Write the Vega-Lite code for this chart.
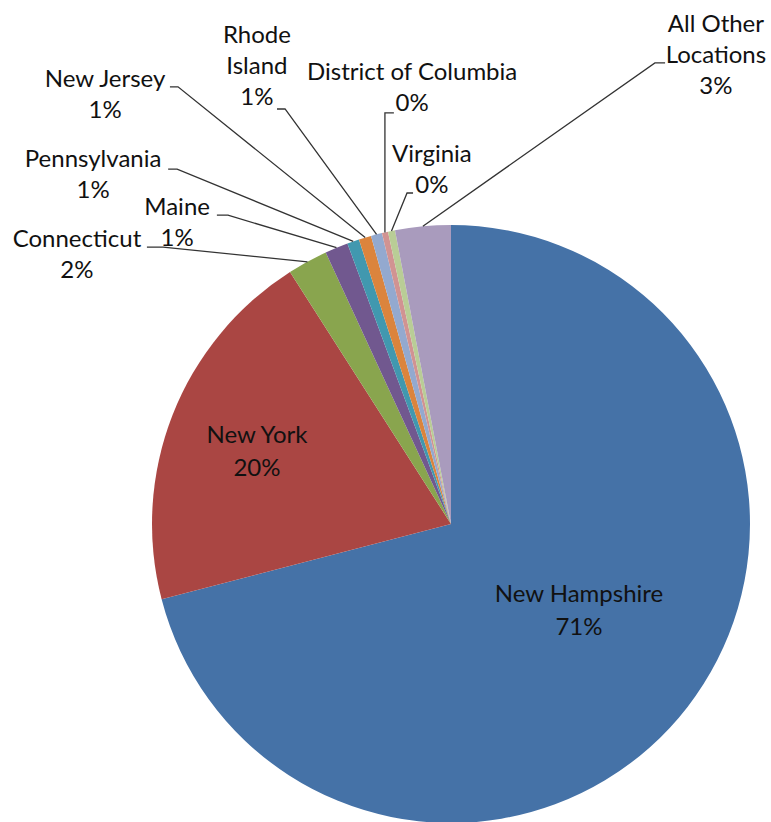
{
  "$schema": "https://vega.github.io/schema/vega-lite/v6.json",
  "width": 598,
  "height": 598,
  "autosize": {"type": "none"},
  "padding": {"left": 152, "top": 225, "right": 21, "bottom": 0},
  "background": "white",
  "config": {"view": {"stroke": null}},
  "datasets": {
    "slices": [
      {"idx": 1, "location": "New Hampshire", "share": 70.95},
      {"idx": 2, "location": "New York", "share": 20.0},
      {"idx": 3, "location": "Connecticut", "share": 2.17},
      {"idx": 4, "location": "Maine", "share": 1.25},
      {"idx": 5, "location": "Pennsylvania", "share": 0.65},
      {"idx": 6, "location": "New Jersey", "share": 0.67},
      {"idx": 7, "location": "Rhode Island", "share": 0.6},
      {"idx": 8, "location": "District of Columbia", "share": 0.33},
      {"idx": 9, "location": "Virginia", "share": 0.38},
      {"idx": 10, "location": "All Other Locations", "share": 3.0}
    ],
    "leaders": [
      {"label": "Connecticut", "pt": 1, "x": -1.017, "y": 0.926},
      {"label": "Connecticut", "pt": 2, "x": -0.963, "y": 0.926},
      {"label": "Connecticut", "pt": 3, "x": -0.480, "y": 0.877},
      {"label": "Maine", "pt": 1, "x": -0.783, "y": 1.033},
      {"label": "Maine", "pt": 2, "x": -0.746, "y": 1.033},
      {"label": "Maine", "pt": 3, "x": -0.383, "y": 0.924},
      {"label": "Pennsylvania", "pt": 1, "x": -0.946, "y": 1.187},
      {"label": "Pennsylvania", "pt": 2, "x": -0.916, "y": 1.187},
      {"label": "Pennsylvania", "pt": 3, "x": -0.327, "y": 0.945},
      {"label": "New Jersey", "pt": 1, "x": -0.940, "y": 1.462},
      {"label": "New Jersey", "pt": 2, "x": -0.913, "y": 1.462},
      {"label": "New Jersey", "pt": 3, "x": -0.287, "y": 0.958},
      {"label": "Rhode Island", "pt": 1, "x": -0.582, "y": 1.388},
      {"label": "Rhode Island", "pt": 2, "x": -0.555, "y": 1.388},
      {"label": "Rhode Island", "pt": 3, "x": -0.249, "y": 0.969},
      {"label": "District of Columbia", "pt": 1, "x": -0.191, "y": 1.375},
      {"label": "District of Columbia", "pt": 2, "x": -0.221, "y": 1.375},
      {"label": "District of Columbia", "pt": 3, "x": -0.221, "y": 0.975},
      {"label": "Virginia", "pt": 1, "x": -0.127, "y": 1.107},
      {"label": "Virginia", "pt": 2, "x": -0.147, "y": 1.107},
      {"label": "Virginia", "pt": 3, "x": -0.199, "y": 0.980},
      {"label": "All Other Locations", "pt": 1, "x": 0.716, "y": 1.542},
      {"label": "All Other Locations", "pt": 2, "x": 0.682, "y": 1.542},
      {"label": "All Other Locations", "pt": 3, "x": -0.094, "y": 0.996}
    ],
    "labels": [
      {"text": "New Hampshire\n71%", "inside": true, "x": 0.428, "y": -0.260},
      {"text": "New York\n20%", "inside": true, "x": -0.649, "y": 0.270},
      {"text": "Connecticut\n2%", "inside": false, "x": -1.251, "y": 0.926},
      {"text": "Maine\n1%", "inside": false, "x": -0.916, "y": 1.033},
      {"text": "Pennsylvania\n1%", "inside": false, "x": -1.197, "y": 1.194},
      {"text": "New Jersey\n1%", "inside": false, "x": -1.157, "y": 1.462},
      {"text": "Rhode\nIsland\n1%", "inside": false, "x": -0.649, "y": 1.609},
      {"text": "District of Columbia\n0%", "inside": false, "x": -0.130, "y": 1.485},
      {"text": "Virginia\n0%", "inside": false, "x": -0.064, "y": 1.211},
      {"text": "All Other\nLocations\n3%", "inside": false, "x": 0.886, "y": 1.645}
    ]
  },
  "layer": [
    {
      "data": {"name": "slices"},
      "mark": {"type": "arc"},
      "encoding": {
        "theta": {"field": "share", "type": "quantitative", "stack": true},
        "order": {"field": "idx", "type": "quantitative"},
        "color": {
          "field": "location",
          "type": "nominal",
          "scale": {
            "domain": ["New Hampshire", "New York", "Connecticut", "Maine", "Pennsylvania", "New Jersey", "Rhode Island", "District of Columbia", "Virginia", "All Other Locations"],
            "range": ["#4572A7", "#AA4643", "#89A54E", "#71588F", "#4198AF", "#DB843D", "#93A9CF", "#D19392", "#B9CD96", "#A99BBD"]
          },
          "legend": null
        }
      }
    },
    {
      "data": {"name": "leaders"},
      "mark": {"type": "line", "color": "#333333", "strokeWidth": 1.3},
      "encoding": {
        "x": {"field": "x", "type": "quantitative", "scale": {"domain": [-1, 1], "nice": false, "zero": false}, "axis": null},
        "y": {"field": "y", "type": "quantitative", "scale": {"domain": [-1, 1], "nice": false, "zero": false}, "axis": null},
        "detail": {"field": "label", "type": "nominal"},
        "order": {"field": "pt", "type": "quantitative"}
      }
    },
    {
      "data": {"name": "labels"},
      "transform": [{"filter": "datum.inside"}],
      "mark": {"type": "text", "font": "Lato", "fontSize": 24, "align": "center", "baseline": "alphabetic", "lineBreak": "\n", "lineHeight": 33, "color": "#111111"},
      "encoding": {
        "x": {"field": "x", "type": "quantitative"},
        "y": {"field": "y", "type": "quantitative"},
        "text": {"field": "text", "type": "nominal"}
      }
    },
    {
      "data": {"name": "labels"},
      "transform": [{"filter": "!datum.inside"}],
      "mark": {"type": "text", "font": "Lato", "fontSize": 24, "align": "center", "baseline": "alphabetic", "lineBreak": "\n", "lineHeight": 31, "color": "#111111"},
      "encoding": {
        "x": {"field": "x", "type": "quantitative"},
        "y": {"field": "y", "type": "quantitative"},
        "text": {"field": "text", "type": "nominal"}
      }
    }
  ]
}
